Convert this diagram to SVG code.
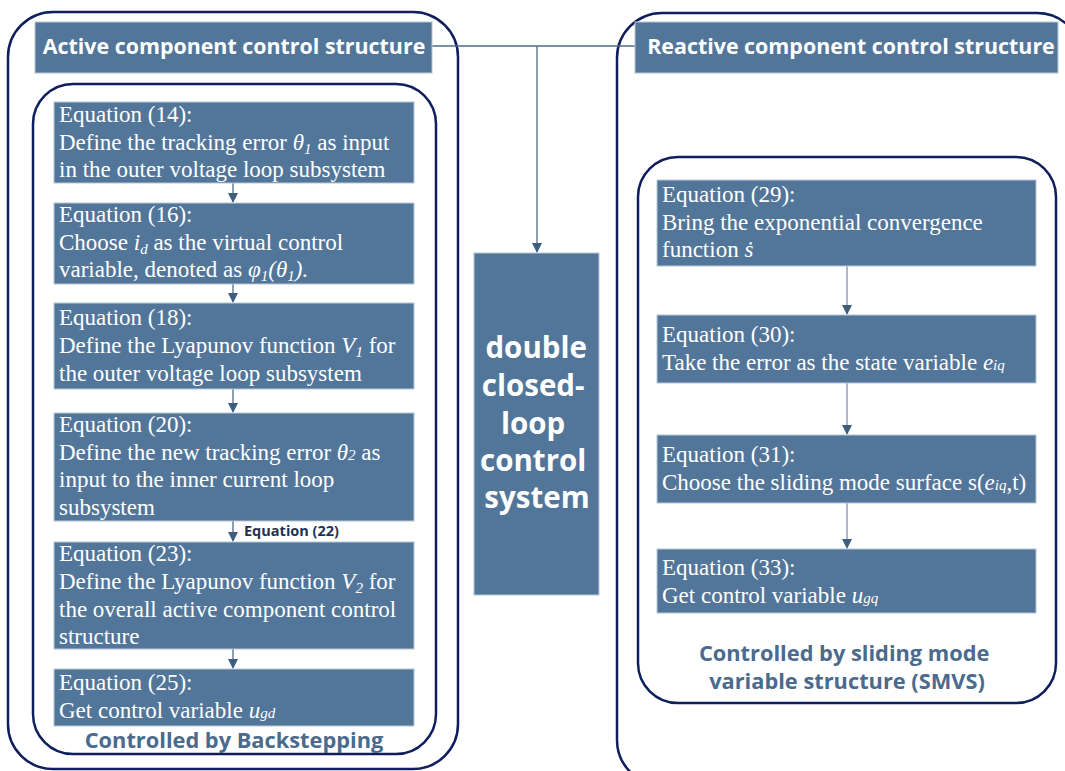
<svg xmlns="http://www.w3.org/2000/svg" width="1065" height="771" viewBox="0 0 1065 771">
<style>
.outer{fill:none;stroke:#0f1f5e;stroke-width:2.5}
.box{fill:#52769a;stroke:#b8c7d6;stroke-width:1}
.title{font-family:"Open Sans","Noto Sans",sans-serif;font-weight:bold;font-size:21.4px;fill:#ffffff}
.eq{font-family:"Liberation Serif","Times New Roman",serif;font-size:23px;fill:#ffffff}
.it{font-style:italic}
.sub{font-size:15px}
.cap{font-family:"Open Sans","Noto Sans",sans-serif;font-weight:bold;font-size:21.8px;fill:#4a6a8e}
.big{font-family:"Open Sans","Noto Sans",sans-serif;font-weight:bold;font-size:29.5px;fill:#ffffff}
.lbl{font-family:"Open Sans","Noto Sans",sans-serif;font-weight:bold;font-size:14.5px;fill:#1f3350}
.conn{fill:none;stroke:#4d6b8a;stroke-width:1.3}
.connL{fill:none;stroke:#8fa2b7;stroke-width:1.5}
</style>
<defs>
<marker id="ah" markerWidth="10" markerHeight="10" refX="9" refY="5" orient="auto" markerUnits="userSpaceOnUse">
<path d="M0,0 L10,5 L0,10 z" fill="#3f5d7e"/>
</marker>
</defs>

<g id="left-container">
<rect class="outer" x="8" y="12" width="450" height="757" rx="45"/>
<rect class="outer" x="33" y="84" width="403" height="670" rx="40"/>
</g>
<g id="right-container">
<rect class="outer" x="617" y="13" width="465" height="772" rx="45"/>
<rect class="outer" x="638" y="157" width="418" height="546" rx="40"/>
</g>

<g id="connectors">
<path class="conn" d="M432,46 H635"/>
<path class="conn" d="M537,46 V252" marker-end="url(#ah)"/>
<path class="conn" d="M233,183 V202" marker-end="url(#ah)"/>
<path class="conn" d="M233,284 V302" marker-end="url(#ah)"/>
<path class="conn" d="M233,389 V412" marker-end="url(#ah)"/>
<path class="conn" d="M233,521 V541" marker-end="url(#ah)"/>
<path class="conn" d="M233,649 V668" marker-end="url(#ah)"/>
<path class="connL" d="M847,266 V314" marker-end="url(#ah)"/>
<path class="connL" d="M847,383 V434" marker-end="url(#ah)"/>
<path class="connL" d="M847,503 V548" marker-end="url(#ah)"/>
<text class="lbl" x="244" y="536">Equation (22)</text>
</g>

<g id="active-title">
<rect class="box" x="35" y="22" width="397" height="51"/>
<text class="title" x="234" y="54" text-anchor="middle">Active component control structure</text>
</g>
<g id="reactive-title">
<rect class="box" x="635" y="22" width="423" height="51"/>
<text class="title" x="851" y="54" text-anchor="middle">Reactive component control structure</text>
</g>

<g id="eq14">
<rect class="box" x="54" y="102" width="360" height="81"/>
<text class="eq" x="59" y="122">Equation (14):</text>
<text class="eq" x="59" y="150">Define the tracking error <tspan class="it">θ</tspan><tspan class="it sub" dy="4">1</tspan><tspan dy="-4"> as input</tspan></text>
<text class="eq" x="59" y="177">in the outer voltage loop subsystem</text>
</g>
<g id="eq16">
<rect class="box" x="54" y="203" width="360" height="81"/>
<text class="eq" x="59" y="222">Equation (16):</text>
<text class="eq" x="59" y="250">Choose <tspan class="it">i</tspan><tspan class="it sub" dy="4">d</tspan><tspan dy="-4"> as the virtual control</tspan></text>
<text class="eq" x="59" y="277">variable, denoted as <tspan class="it">φ</tspan><tspan class="it sub" dy="4">1</tspan><tspan class="it" dy="-4">(θ</tspan><tspan class="it sub" dy="4">1</tspan><tspan class="it" dy="-4">).</tspan></text>
</g>
<g id="eq18">
<rect class="box" x="54" y="303" width="360" height="86"/>
<text class="eq" x="59" y="325">Equation (18):</text>
<text class="eq" x="59" y="353">Define the Lyapunov function <tspan class="it">V</tspan><tspan class="it sub" dy="4">1</tspan><tspan dy="-4"> for</tspan></text>
<text class="eq" x="59" y="381">the outer voltage loop subsystem</text>
</g>
<g id="eq20">
<rect class="box" x="54" y="413" width="360" height="108"/>
<text class="eq" x="59" y="432">Equation (20):</text>
<text class="eq" x="59" y="460">Define the new tracking error <tspan class="it">θ</tspan><tspan class="it sub">2</tspan> as</text>
<text class="eq" x="59" y="487">input to the inner current loop</text>
<text class="eq" x="59" y="515">subsystem</text>
</g>
<g id="eq23">
<rect class="box" x="54" y="542" width="360" height="107"/>
<text class="eq" x="59" y="561">Equation (23):</text>
<text class="eq" x="59" y="589">Define the Lyapunov function <tspan class="it">V</tspan><tspan class="it sub" dy="4">2</tspan><tspan dy="-4"> for</tspan></text>
<text class="eq" x="59" y="617">the overall active component control</text>
<text class="eq" x="59" y="644">structure</text>
</g>
<g id="eq25">
<rect class="box" x="54" y="669" width="360" height="57"/>
<text class="eq" x="59" y="690">Equation (25):</text>
<text class="eq" x="59" y="718">Get control variable <tspan class="it">u</tspan><tspan class="it sub">gd</tspan></text>
</g>
<g id="backstepping-caption">
<text class="cap" x="234" y="748" text-anchor="middle">Controlled by Backstepping</text>
</g>

<g id="double-loop">
<rect class="box" x="474" y="253" width="125" height="342"/>
<text class="big" text-anchor="middle">
<tspan x="540" y="358">double</tspan>
<tspan x="537" y="396">closed-</tspan>
<tspan x="537" y="434">loop</tspan>
<tspan x="537" y="471">control</tspan>
<tspan x="537" y="508">system</tspan>
</text>
</g>

<g id="eq29">
<rect class="box" x="657" y="180" width="379" height="86"/>
<text class="eq" x="662" y="202">Equation (29):</text>
<text class="eq" x="662" y="230">Bring the exponential convergence</text>
<text class="eq" x="662" y="257">function <tspan class="it">ṡ</tspan></text>
</g>
<g id="eq30">
<rect class="box" x="657" y="315" width="379" height="68"/>
<text class="eq" x="662" y="342">Equation (30):</text>
<text class="eq" x="662" y="370">Take the error as the state variable <tspan class="it">e</tspan><tspan class="it sub">iq</tspan></text>
</g>
<g id="eq31">
<rect class="box" x="657" y="435" width="379" height="68"/>
<text class="eq" x="662" y="462">Equation (31):</text>
<text class="eq" x="662" y="490">Choose the sliding mode surface s(<tspan class="it">e</tspan><tspan class="it sub">iq</tspan>,t)</text>
</g>
<g id="eq33">
<rect class="box" x="657" y="549" width="379" height="64"/>
<text class="eq" x="662" y="575">Equation (33):</text>
<text class="eq" x="662" y="603">Get control variable <tspan class="it">u</tspan><tspan class="it sub">gq</tspan></text>
</g>
<g id="smvs-caption">
<text class="cap" text-anchor="middle">
<tspan x="847" y="661">Controlled by sliding mode</tspan>
<tspan x="847" y="689">variable structure (SMVS)</tspan>
</text>
</g>
</svg>
